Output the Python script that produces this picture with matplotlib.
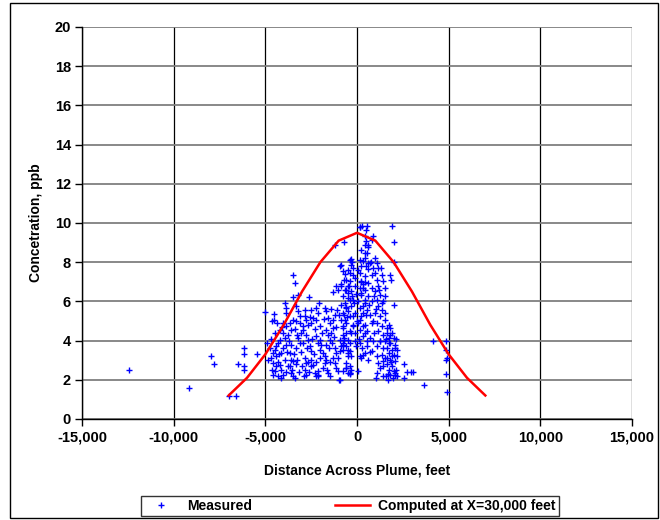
import matplotlib
matplotlib.use("Agg")
import matplotlib.pyplot as plt
from matplotlib.patches import Rectangle
from matplotlib.lines import Line2D

plt.rcParams['font.family'] = ['Liberation Sans', 'DejaVu Sans']
plt.rcParams['font.weight'] = 'bold'

# ---- data ----
computed_x = [-7000, -6000, -5000, -4000, -3000, -2000, -1000, 0,
              1000, 2000, 3000, 4000, 5000, 6000, 7000]
computed_y = [1.2, 2.1, 3.3, 4.8, 6.5, 8.0, 9.1, 9.5,
              9.1, 8.0, 6.5, 4.8, 3.3, 2.1, 1.2]

meas_x = [
    -12425, -9140, -7970, -7825, -7000, -6600, -6500, -6180, -6180, -6180, -6180, -5470,
    145, -1218, -727, 418, 600, 418, -945, -309, -255, -218, 327, 509, 600, -400, -582, -490,
    -1127, -1036, -1309, -673, -491, -400, -673, -582, -491,
    236, 327, 236, 418, 327, 509, 145, 327, 418,
    -3490, -3400, -3490, -3218, -2618, -3945, -3854, -3890, -4545, -4545, -5000,
    -3309, -3218, -3127, -3309, -2854, -2854, -2763, -2945, -2490, -2400, -2490, -2218, -2127, -2218, -2036,
    -1763, -1672, -1581, -1490, -1672, -1581, -1490,
    -1400, -1309, -1309, -1218, -1090,
    -764, -673, -764, -582, -491, -764,
    -218, -218, -309, -127, -36,
    -400, -491, -400, -400, -582, -764, -945,
    -4854, -4672, -4581, -4490, -4400, -4309, -4218, -4581, -4400, -4218, -4490, -4581, -4309, -4036, -4127,
    -4400, -4127, -4036, -3854, -3945, -4036, -3854,
    -3672, -3581, -3672, -3490, -3581, -3490, -3400, -3309, -3127, -3218, -3036, -2945, -2854, -2763, -2854,
    -2763, -2490, -2400, -2490, -2309, -2218, -2127, -2127, -2127, -2581, -2490, -2672, -2218, -2036, -1945,
    -2036, -1854, -1763, -1672, -1763, -1581, -1490, -1218, -1163, -1309, -1218, -1127, -1036, -945, -854, -945,
    -3763, -3581, -3672, -3490, -4036, -4218, -4618, -4381,
    148, 296, 519, 481, 481, 611, 519, 426, 852, 796,
    1019, 1444, 2093, 2093, 2185, 56, 148, 241, 333, -593, -407, -500, -963, -685, -778, -593, -500,
    -870, -407, -315, -778, -500, -222, -685, -407, -870, -593, -315, -130, -778, -500, -222, -870, -593,
    -315, -685, -407, -130, -870, -593, -222, -778, -407, -130, -685, -407, -778, -500, -593, -315, -407,
    148, 426, 704, 241, 611, 889, 148, 426, 796, 241, 611, 148, 426, 796, 241, 611, 56, 426, 796, 148,
    519, 241, 704, 56, 426, 796, 148, 519, 333, 704, 148, 519, 889, 426, 796, 611,
    1074, 1167, 981, 1352, 1074, 1444, 1167, 1537, 981, 1259, 1074, 1444, 1167, 1352, 981, 1259, 1537,
    1074, 1352, 1630, 1167, 1444, 1259, 1074, 1352, 1167, 1259, 1444, 1074,
    1722, 1815, 1630, 1907, 1722, 2000, 1537, 1815, 2093, 1630, 1907, 1722, 2000, 1537, 1815, 2093, 1630,
    1907, 1722, 2000, 1444, 1815, 2185, 2185,
    4130, 4870, 4870, 4900, 4870, 4870, 4900, 3667, 2555, 2741, 2926, 3074, 2555, 1907, 2037, 2037, 1815,
    1852, 2000,
    -4900, -4750, -4700, -4650, -4450, -4300, -4250, -4150, -4100, -3950, -3900, -3800, -3750, -3700,
    -3600, -3550, -3450, -3400, -3350, -3300, -3250, -3150, -3100, -3050, -3000, -2950, -2900, -2800,
    -2750, -2700, -2650, -2600, -2550, -2450, -2350, -2300, -2250, -2150, -2100, -2000, -1900, -1850,
    -1800, -1700, -1650, -1550, -1450, -1400, -1350, -1250, -1150, -1050, -1000,
    -850, -750, -650, -550, -450, -350, -250, -150, -100, -50, 0, 50, 100, 200, 250, 300, 350, 450,
    550, 650, 700, 750, 850, 900, 950, 1000, 1050, 1100, 1200, 1250, 1300, 1350, 1400, 1500, 1550,
    1600, 1650, 1700, 1750, 1800, 1850, 1900, 1950, 2050, 2100, 2150, 1700, 1600,
]
meas_y = [
    2.50, 1.57, 3.21, 2.80, 1.17, 1.17, 2.80, 3.60, 3.30, 2.70, 2.50, 3.32,
    9.80, 8.89, 9.01, 9.32, 8.89, 8.47, 7.79, 8.16, 7.99, 7.70, 8.04, 7.79, 7.96, 7.45, 7.10, 6.77,
    6.77, 6.60, 6.46, 6.60, 6.43, 6.09, 5.92, 5.71, 5.49,
    7.00, 6.68, 6.43, 6.09, 5.74, 5.32, 5.06, 4.72, 4.38,
    7.36, 6.94, 6.22, 6.34, 6.22, 5.91, 5.66, 5.40, 5.34, 5.06, 5.44,
    5.74, 5.49, 5.23, 4.98, 5.57, 5.23, 5.06, 4.76, 5.57, 5.15, 4.89, 5.66, 5.40, 5.06, 4.72,
    5.66, 5.49, 5.15, 4.89, 4.55, 4.30, 4.04,
    4.38, 4.64, 5.06, 5.32, 5.57,
    5.40, 5.06, 4.72, 4.38, 4.04, 3.79,
    5.23, 4.72, 4.38, 3.96, 3.70,
    3.45, 3.19, 2.68, 2.34, 2.60, 2.43, 2.00,
    3.02, 3.11, 3.36, 3.53, 3.70, 3.87, 4.04, 2.85, 2.68, 2.73, 2.43, 2.26, 2.17, 2.26, 2.09,
    3.19, 3.36, 3.62, 3.79, 4.13, 4.38, 4.72,
    3.36, 3.02, 2.68, 2.94, 2.34, 2.17, 2.09, 3.62, 3.87, 4.13, 4.38, 4.55, 3.11, 2.85, 2.51,
    2.26, 3.02, 2.77, 2.68, 2.34, 2.17, 2.43, 2.26, 2.17, 3.70, 3.45, 4.04, 4.21, 4.04, 3.79,
    3.53, 3.36, 3.19, 3.02, 2.85, 2.34, 2.17, 3.62, 3.36, 3.11, 2.85, 2.60, 2.43, 4.04, 3.70, 3.45,
    4.30, 4.55, 4.89, 5.06, 4.89, 4.55, 5.02, 4.91,
    9.80, 9.86, 9.86, 9.62, 9.06, 8.77, 8.47, 8.89, 9.32, 9.15,
    2.09, 2.17, 2.34, 2.26, 2.17, 2.43, 3.19, 3.11, 3.28, 2.60, 2.34, 2.34, 2.00, 4.04, 3.87, 3.70, 3.53,
    7.87, 8.13, 7.87, 7.53, 7.62, 7.36, 7.10, 7.02, 6.77, 6.60, 6.51, 6.77, 6.26, 6.17, 6.09, 5.83, 5.66,
    5.74, 5.32, 5.23, 5.40, 5.06, 4.89, 4.81, 4.64, 4.47, 4.38, 4.13, 3.87, 3.53, 3.36, 2.85, 2.51, 2.31,
    8.13, 8.21, 7.96, 7.79, 7.65, 7.70, 7.45, 7.28, 7.36, 7.02, 6.94, 6.68, 6.60, 6.68, 6.34, 6.26, 6.00, 5.91, 6.00, 5.66,
    5.57, 5.23, 5.32, 4.89, 4.81, 4.89, 4.55, 4.47, 4.21, 4.13, 3.87, 3.70, 3.96, 3.36, 3.45, 3.02,
    7.96, 7.70, 7.45, 7.36, 7.10, 7.02, 6.77, 6.68, 6.51, 6.34, 6.09, 6.00, 5.74, 5.57, 5.40, 5.23, 5.06,
    4.89, 4.72, 4.64, 4.47, 4.30, 3.96, 3.70, 3.28, 2.85, 2.60, 2.68, 2.34,
    4.81, 4.64, 4.38, 4.38, 4.13, 4.13, 3.96, 3.87, 3.79, 3.62, 3.53, 3.36, 3.28, 3.11, 3.02, 2.94, 2.82,
    2.68, 2.51, 2.43, 2.94, 2.26, 3.53, 3.19,
    3.99, 3.99, 3.53, 3.10, 3.00, 2.31, 1.37, 1.71, 2.82, 2.39, 2.39, 2.39, 2.09, 9.86, 9.03, 7.99, 7.36,
    7.10, 5.80,
    3.9, 3.6, 4.1, 2.5, 4.4, 2.9, 3.3, 2.5, 4.7, 3.0, 2.4, 3.4, 2.7, 4.0,
    3.8, 2.5, 3.3, 4.6, 2.8, 4.3, 3.0, 2.4, 4.9, 3.4, 2.7, 3.9, 2.2, 4.3,
    3.6, 2.9, 4.8, 2.4, 5.2, 4.1, 3.3, 4.6, 2.9, 3.9, 5.9, 3.1, 4.4, 2.6,
    5.1, 3.8, 2.5, 3.6, 2.9, 5.6, 3.9, 4.2, 4.7, 3.1, 5.3,
    6.9, 4.3, 7.4, 5.2, 6.8, 3.2, 6.3, 5.9, 7.2, 6.4, 5.0, 7.6, 4.1, 8.6, 3.6, 6.9, 5.4, 7.0,
    4.0, 5.8, 3.4, 8.0, 5.0, 6.3, 4.4, 8.2, 5.6, 3.2, 6.6, 4.0, 7.7, 5.9, 3.6, 5.4, 6.3,
    4.1, 3.1, 2.3, 3.9, 4.3, 2.9, 3.2, 2.1, 3.6, 4.1, 2.5, 2.0, 2.2,
]

x_ticks = [-15000, -10000, -5000, 0, 5000, 10000, 15000]
x_tick_labels = ['-15,000', '-10,000', '-5,000', '0', '5,000', '10,000', '15,000']
y_ticks = [0, 2, 4, 6, 8, 10, 12, 14, 16, 18, 20]

# ---- figure ----
W, H = 660, 520
fig = plt.figure(figsize=(W / 100, H / 100), dpi=100)
fig.patches.append(Rectangle((10 / W, 2 / H), 648 / W, 515 / H, transform=fig.transFigure,
                             fill=False, edgecolor='black', lw=1.0))

ax = fig.add_axes([82 / W, 1 - 419 / H, 550 / W, 392 / H])
ax.set_xlim(-15000, 15000)
ax.set_ylim(0, 20)
ax.set_xticks(x_ticks)
ax.set_xticklabels(x_tick_labels)
ax.set_yticks(y_ticks)
ax.tick_params(axis='both', direction='out', length=5, width=1, labelsize=10.5, pad=3)
for lab in ax.get_xticklabels() + ax.get_yticklabels():
    lab.set_fontweight('bold')

ax.yaxis.grid(True, color='#7f7f7f', lw=1.3)
ax.xaxis.grid(True, color='black', lw=0.9)
ax.set_axisbelow(True)
for s in ['top', 'right']:
    ax.spines[s].set_visible(False)
for s in ['left', 'bottom']:
    ax.spines[s].set_color('black')
    ax.spines[s].set_linewidth(1.0)

ax.plot(meas_x, meas_y, linestyle='none', marker='+', color='#0000ff',
        markersize=5, markeredgewidth=1.0, label='Measured', zorder=3)
ax.plot(computed_x, computed_y, color='#ff0000', lw=1.8,
        label='Computed at X=30,000 feet', zorder=4)

ax.set_xlabel('Distance Across Plume, feet', fontsize=10, fontweight='bold', labelpad=14)
ax.set_ylabel('Concetration, ppb', fontsize=10, fontweight='bold', labelpad=8)

handles = [
    Line2D([], [], linestyle='none', marker='+', color='#0000ff', markersize=5, markeredgewidth=1.0),
    Line2D([], [], color='#ff0000', lw=1.8),
]
leg = fig.legend(handles, ['Measured', 'Computed at X=30,000 feet'], loc='center',
                 bbox_to_anchor=(350 / W, 1 - 506 / H), ncol=2, frameon=True,
                 fancybox=False, edgecolor='black', fontsize=10,
                 columnspacing=6.0, handlelength=2.5, borderpad=0.25, handletextpad=0.6)
leg.get_frame().set_linewidth(1.0)
for t in leg.get_texts():
    t.set_fontweight('bold')

fig.savefig('out.png', dpi=100)
